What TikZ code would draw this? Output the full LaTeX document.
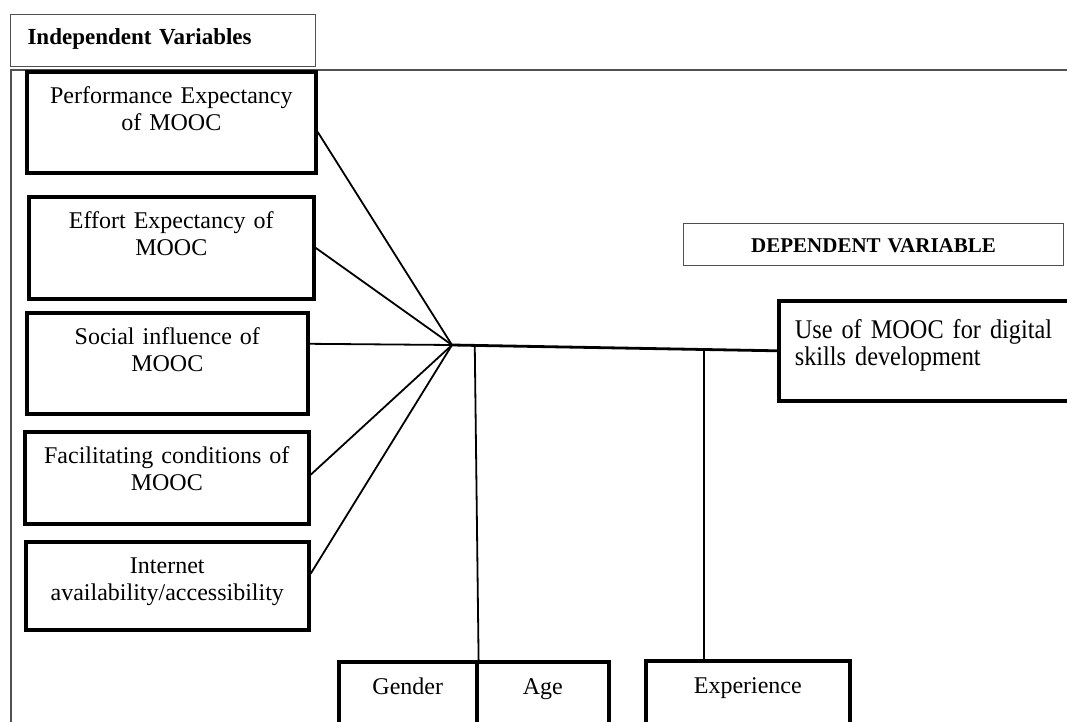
\documentclass[tikz,border=0pt]{standalone}
\usepackage{fontspec}
\setmainfont[WordSpace=0.8]{Liberation Serif}
\newfontfamily\dvfamily[FakeStretch=0.9, WordSpace=0.8]{Liberation Serif}
\usepackage{xcolor}
\usepackage{tikz}
\usetikzlibrary{positioning, calc}
\definecolor{fgrey}{RGB}{80,80,80}
\newcommand\varfont{\fontsize{24}{27}\selectfont}
\tikzset{
  headbox/.style = {rectangle, draw=fgrey, line width=1.1pt, anchor=north west,
                    font=\fontsize{23}{27}\selectfont\bfseries, align=left,
                    inner xsep=17pt, inner ysep=8pt, text height=22pt},
  deptag/.style  = {rectangle, draw=fgrey, line width=1.1pt, anchor=north west,
                    font=\fontsize{21}{25}\selectfont\bfseries, align=center,
                    inner xsep=4pt, inner ysep=6pt, text height=23pt, text depth=7pt},
  varbox/.style  = {rectangle, draw=black, line width=3.6pt, anchor=north west,
                    font=\varfont, align=center, inner xsep=4pt, inner ysep=14pt,
                    text height=18pt},
  modbox/.style  = {rectangle, draw=black, line width=3.6pt, anchor=north west,
                    font=\varfont, align=center, inner xsep=4pt, inner ysep=14pt,
                    text height=19pt, text depth=47pt},
  frame/.style   = {draw=fgrey, line width=1.4pt},
  link/.style    = {draw=black, line width=1.8pt},
  trunk/.style   = {draw=black, line width=2.8pt},
}
\begin{document}
\begin{tikzpicture}[x=1pt, y=-1pt]
  \useasboundingbox (0,0) rectangle (1067,722);
  \clip (0,0) rectangle (1067,722);

  \draw[frame] (11,722) -- (11,70) -- (1067,70);

  \node[headbox, text width=271pt, text depth=14pt] (ivhead) at (10,14) {Independent Variables};

  % independent variables
  \node[varbox, text width=281pt, text depth=55pt] (pe) at (25,70)  {Performance Expectancy\\of MOOC};
  \node[varbox, text width=277pt, text depth=56pt] (ee) at (27,195) {Effort Expectancy of\\MOOC};
  \node[varbox, text width=273pt, text depth=55pt] (si) at (25,311) {Social influence of\\MOOC};
  \node[varbox, text width=276pt, text depth=46pt] (fc) at (23,430) {Facilitating conditions of\\MOOC};
  \node[varbox, text width=275pt, text depth=42pt] (ia) at (24,540) {Internet\\availability/accessibility};

  % dependent variable
  \node[deptag, text width=372pt] (dvhead) at (683,223) {DEPENDENT VARIABLE};
  \node[varbox, font=\dvfamily\fontsize{27}{27}\selectfont, align=left, inner xsep=16pt,
        text width=290pt, text height=24pt, text depth=48pt] (dv) at (777,299)
        {Use of MOOC for digital\\skills development};

  % moderators
  \node[modbox, text width=130pt] (gender) at (337,660) {Gender};
  \node[modbox, text width=124pt] (age)    at (475,660) {Age};
  \node[modbox, text width=196pt] (exp)    at (644,659) {Experience};

  \coordinate (hub) at (452,345);
  \draw[link] ([yshift=-9.5pt]pe.east) -- (hub);
  \draw[link] (ee.east) -- (hub);
  \draw[link] ([yshift=19.5pt]si.east) -- (hub);
  \draw[link] ([yshift=3pt]fc.east) -- (hub);
  \draw[link] ([yshift=12pt]ia.east) -- (hub);
  \draw[trunk] (hub) -- (dv.west);

  \coordinate (m1) at ($(hub)!0.07!(dv.west)$);
  \coordinate (m2) at ($(hub)!0.775!(dv.west)$);
  \draw[link] (m1) -- (gender.north east);
  \draw[link] (m2) -- (m2 |- exp.north);
\end{tikzpicture}
\end{document}
